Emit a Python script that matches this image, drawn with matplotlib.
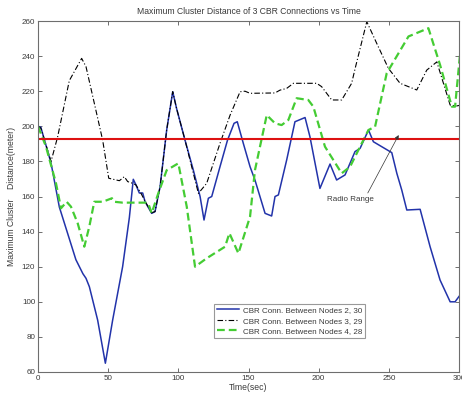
import matplotlib
matplotlib.use("Agg")
import matplotlib.pyplot as plt

# ---- data ----
blue_x = [0, 2, 9.3, 15.2, 21.1, 27, 32, 34.2, 36.6, 42.5, 48, 53.2, 60.3, 65.1, 67.9, 69.8,
          72.2, 74.6, 76.3, 81, 83.4, 87, 91.7, 96, 98.8, 104.8, 110.7, 115.5, 118.3, 121.4,
          123.8, 129.7, 135, 139.7, 142, 146.4, 151.1, 154.6, 161.8, 166.5, 168.9, 171.3,
          177.2, 183.1, 190.3, 193.8, 200.9, 208.1, 212.8, 218.8, 225.9, 229.5, 235.5, 239,
          252.1, 255.7, 259.2, 262.8, 272.3, 279.4, 286.5, 293.7, 297.2, 300.8]
blue_y = [200, 199.5, 179, 154, 139, 124, 116, 113.4, 108.6, 89.6, 65, 89.6, 120, 148, 169.8,
          166.6, 162, 162, 157, 150.4, 151.4, 165.6, 197.9, 219.7, 210, 192, 175, 160, 146.6,
          159, 160, 177, 192, 201.7, 202.6, 190, 177, 169.4, 150.4, 148.9, 160, 160.9, 180.8,
          202.6, 205, 194, 164.6, 178.5, 169.4, 172.3, 185.6, 187.4, 197.9, 191.2, 185, 173.2,
          163.7, 152.3, 152.7, 131.4, 112.4, 100, 100, 103.9]

black_x = [0, 2, 9.3, 14, 22.3, 31.1, 34.2, 41.3, 46.1, 50.4, 58, 61.5, 63.9, 67.5, 69.8, 73.4,
           76.5, 81, 83.4, 87, 91.7, 96, 98.8, 104.8, 114.3, 120.2, 129.7, 136.9, 144, 147.5,
           151.1, 168.9, 172.4, 177.2, 182, 198.6, 202.1, 209.3, 216.4, 223.5, 226, 234.3,
           241.4, 249.7, 258, 269.9, 277, 284.2, 293.7, 298.4, 300.8]
black_y = [200, 199, 180, 194, 226, 238.7, 234, 209, 192, 170.4, 169, 171.3, 168.5, 167.5,
           166.6, 161.8, 157, 150.7, 151.4, 165.6, 197.9, 219.7, 210, 192, 161.8, 167.5, 190.3,
           206.4, 219.7, 220, 218.8, 219, 220.6, 221.6, 224.5, 224.5, 222.6, 215, 215, 224.5,
           233, 259.6, 247.2, 233, 224.5, 220.7, 232, 236.7, 212.1, 211.6, 212]

green_x = [0, 5.7, 12.8, 16.4, 20.4, 23.5, 28.3, 33, 36.6, 40.1, 46.1, 52.7, 54.4, 60.3, 77,
           78.6, 81, 85.8, 91.7, 100, 106, 111.9, 120.2, 133.3, 136.4, 142.8, 151.1, 154.6,
           163, 168.9, 173.6, 178.4, 184.3, 192.6, 196.2, 204.5, 216.4, 222.4, 229.5, 235.5,
           240.2, 248.5, 264, 278.2, 286.5, 294.9, 297.2, 300.8]
green_y = [200, 188.4, 167.6, 153.3, 157, 154.2, 144.7, 131.4, 143, 157, 157, 159, 157, 156.5,
           156.5, 156, 150.5, 162, 175, 178.9, 154.2, 120, 124.8, 131.4, 139.1, 127.6, 148.5,
           175, 206.4, 201.7, 200.7, 203.6, 216, 215, 211.2, 188.4, 173.2, 177, 188.4, 197.9,
           199.8, 230.3, 251.2, 255.9, 235, 211.2, 211.2, 241.6]

radio_range = 193
labels = ["CBR Conn. Between Nodes 2, 30",
          "CBR Conn. Between Nodes 3, 29",
          "CBR Conn. Between Nodes 4, 28"]
x_ticks = [0, 50, 100, 150, 200, 250, 300]
y_ticks = [60, 80, 100, 120, 140, 160, 180, 200, 220, 240, 260]

# ---- style ----
plt.rcParams['font.family'] = ['Liberation Sans Narrow', 'Liberation Sans', 'DejaVu Sans']
txt_col = '#3a3a3a'
axis_col = '#6e6e6e'

fig = plt.figure(figsize=(4.62, 3.95), dpi=100)
ax = fig.add_axes([38/462, 23/395, 421/462, 351/395])

ax.plot(blue_x, blue_y, color='#2233aa', lw=1.1, label=labels[0])
ax.plot(black_x, black_y, color='black', lw=0.8, linestyle=(0, (5, 2, 1, 2)), label=labels[1])
ax.plot(green_x, green_y, color='#44cc33', lw=1.6, linestyle=(0, (3.5, 1.8)), label=labels[2])
ax.axhline(radio_range, color='#dd1111', lw=1.5)

ax.set_xlim(0, 300)
ax.set_ylim(60, 260)
ax.set_xticks(x_ticks)
ax.set_yticks(y_ticks)
ax.tick_params(direction='in', length=3, width=0.7, colors=axis_col, labelsize=5.8,
               labelcolor=txt_col, top=True, right=True, pad=2)
for s in ax.spines.values():
    s.set_color(axis_col)
    s.set_linewidth(0.8)

ax.set_title("Maximum Cluster Distance of 3 CBR Connections vs Time", fontsize=6.2,
             color=txt_col, pad=5)
ax.set_xlabel("Time(sec)", fontsize=6.2, color=txt_col, labelpad=1)
ax.set_ylabel("Maximum Cluster    Distance(meter)", fontsize=6.2, color=txt_col, labelpad=4)

ax.annotate("", xy=(257, 195), xytext=(235, 162),
            arrowprops=dict(arrowstyle='-|>', color='#333333', lw=0.5,
                            mutation_scale=6, shrinkA=0, shrinkB=0))
ax.text(206, 158.5, "Radio Range", fontsize=5.8, color=txt_col, ha='left', va='center')

leg = ax.legend(loc='lower left', bbox_to_anchor=(0.418, 0.097), fontsize=5.8,
                frameon=True, fancybox=False, handlelength=2.8, handletextpad=0.4,
                borderpad=0.35, labelspacing=0.35, borderaxespad=0)
leg.get_frame().set_edgecolor('#808080')
leg.get_frame().set_linewidth(0.8)
for t in leg.get_texts():
    t.set_color(txt_col)

fig.savefig("out.png", dpi=100)
